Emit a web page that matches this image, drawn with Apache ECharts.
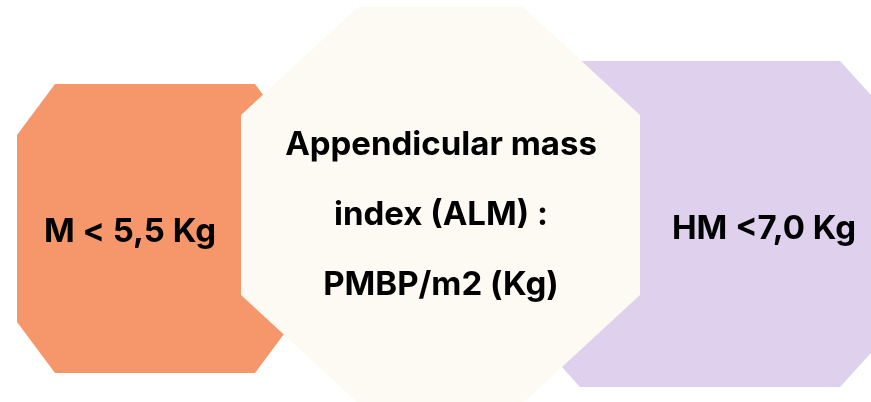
<!DOCTYPE html>
<html>
<head>
<meta charset="utf-8">
<script src="https://cdn.jsdelivr.net/npm/echarts@6/dist/echarts.min.js"></script>
<style>
html,body{margin:0;padding:0;background:#fff;}
#c{width:871px;height:402px;}
</style>
</head>
<body>
<div id="c"></div>
<script>
// Labels of the three octagons (drawing order: left, right, centre on top)
const labels = ['M < 5,5 Kg', 'HM <7,0 Kg', 'Appendicular mass\nindex (ALM) :\nPMBP/m2 (Kg)'];
// Octagon extents [x0, y0, x1, y1] in chart units (pixel grid)
const x0 = [17, 540, 241];
const y0 = [84, 61, 7];
const x1 = [293, 880, 640];
const y1 = [373, 387, 403];
// Corner cuts [horizontal, vertical]
const cutX = [38, 40, 117];
const cutY = [51, 44, 108];
// Label centres
const labelX = [130, 764, 441];
const labelY = [232, 229, 215];

const colors = ['#F5976B', '#DFD1EE', '#FDFAF3'];

const chart = echarts.init(document.getElementById('c'), null, {renderer: 'canvas'});
const data = labels.map((l, i) => [x0[i], y0[i], x1[i], y1[i], cutX[i], cutY[i], labelX[i], labelY[i], i]);

chart.setOption({
  animation: false,
  grid: {left: 0, right: 0, top: 0, bottom: 0},
  xAxis: {type: 'value', min: 0, max: 871, show: false},
  yAxis: {type: 'value', min: 0, max: 402, inverse: true, show: false},
  series: [{
    type: 'custom',
    coordinateSystem: 'cartesian2d',
    clip: false,
    data: data,
    encode: {x: [0, 2], y: [1, 3]},
    renderItem: function (params, api) {
      const a = api.coord([api.value(0), api.value(1)]);
      const b = api.coord([api.value(2), api.value(3)]);
      const c = api.coord([api.value(0) + api.value(4), api.value(1) + api.value(5)]);
      const cx = c[0] - a[0], cy = c[1] - a[1];
      const L = a[0], T = a[1], R = b[0], B = b[1];
      const pts = [
        [L + cx, T], [R - cx, T], [R, T + cy], [R, B - cy],
        [R - cx, B], [L + cx, B], [L, B - cy], [L, T + cy]
      ];
      const idx = api.value(8);
      const lp = api.coord([api.value(6), api.value(7)]);
      return {
        type: 'group',
        children: [
          {type: 'polygon', shape: {points: pts}, style: {fill: colors[idx]}},
          {type: 'text', x: lp[0], y: lp[1], style: {
            text: labels[idx], fill: '#000',
            font: '700 33px Inter',
            align: 'center', verticalAlign: 'middle', lineHeight: 70
          }}
        ]
      };
    }
  }]
});
</script>
</body>
</html>
